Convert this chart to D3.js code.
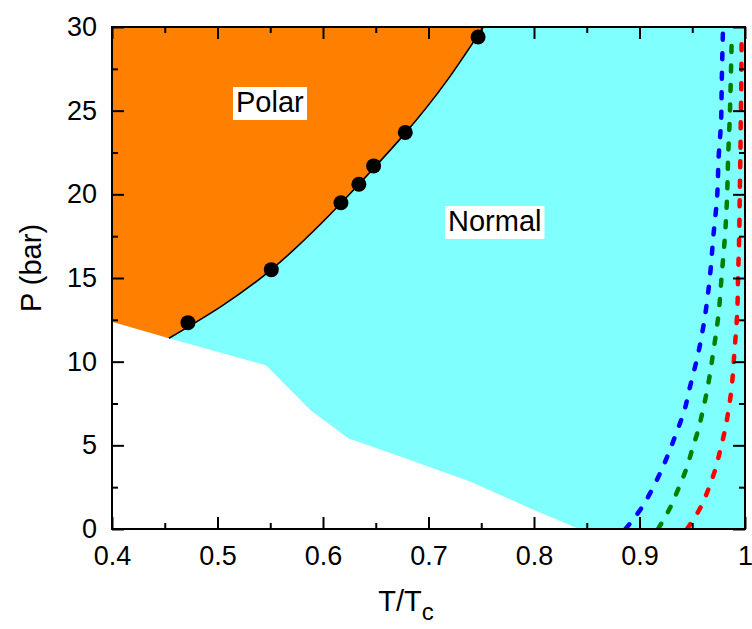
<!DOCTYPE html>
<html>
<head>
<meta charset="utf-8">
<script src="https://cdn.jsdelivr.net/npm/d3@7"></script>
<style>
  body { margin: 0; background: #fff; }
  svg { display: block; font-family: "Liberation Sans", Arial, sans-serif; }
</style>
</head>
<body>
<svg class="js-render-chart" width="752" height="629"></svg>
<script>
"use strict";

//data

const majorT = [0.4, 0.5, 0.6, 0.7, 0.8, 0.9, 1.0];
const minorT = [0.45, 0.55, 0.65, 0.75, 0.85, 0.95];
const majorP = [0, 5, 10, 15, 20, 25, 30];
const minorP = [2.5, 7.5, 12.5, 17.5, 22.5, 27.5];

const dotT = [0.472, 0.551, 0.617, 0.634, 0.648, 0.678, 0.747];
const dotP = [12.33, 15.5, 19.5, 20.6, 21.7, 23.7, 29.4];

const boundaryT = [0.454, 0.551, 0.634, 0.718, 0.752];
const boundaryP = [11.4, 15.5, 20.6, 26.84, 30];

const lowerT = [0.4, 0.454, 0.546, 0.588, 0.624, 0.674, 0.740, 0.800, 0.843];
const lowerP = [12.39, 11.4, 9.78, 7.11, 5.42, 4.32, 2.83, 1.14, 0];

const blueT = [0.8867, 0.902, 0.9125, 0.9214, 0.929, 0.936, 0.9425, 0.947, 0.956, 0.9625, 0.967, 0.970, 0.9736, 0.975, 0.9774, 0.978, 0.979];
const blueP = [0, 1.27, 2.43, 3.6, 4.76, 5.92, 7.07, 8.27, 10.6, 12.9, 15.24, 17.5, 19.86, 22.2, 24.5, 26.8, 29.6];

const greenT = [0.9176, 0.929, 0.937, 0.9444, 0.950, 0.9556, 0.960, 0.964, 0.970, 0.975, 0.978, 0.981, 0.983, 0.984, 0.9855, 0.9865, 0.9875];
const greenP = [0, 1.27, 2.43, 3.6, 4.76, 5.92, 7.07, 8.27, 10.6, 12.9, 15.24, 17.5, 19.86, 22.2, 24.5, 26.8, 29.6];

const redT = [0.945, 0.9577, 0.9656, 0.972, 0.9767, 0.981, 0.9843, 0.987, 0.990, 0.9926, 0.9935, 0.9945, 0.995, 0.9956, 0.996, 0.9965, 0.9968];
const redP = [0, 1.27, 2.43, 3.6, 4.76, 5.92, 7.07, 8.27, 10.6, 12.9, 15.24, 17.5, 19.86, 22.2, 24.5, 26.8, 29.6];

//zip

const zip = (ts, ps) => ts.map((t, i) => [t, ps[i]]);

//render chart

const renderChart = () => {

  //scales

  const x = d3.scaleLinear().domain([0.4, 1]).range([112, 745]);
  const y = d3.scaleLinear().domain([0, 30]).range([529, 27]);

  const svg = d3.select(".js-render-chart");

  svg.append("clipPath")
    .attr("id", "plot-clip")
    .append("rect")
    .attr("x", x(0.4))
    .attr("y", y(30))
    .attr("width", x(1) - x(0.4))
    .attr("height", y(0) - y(30));

  //regions

  svg.append("rect")
    .attr("x", x(0.4))
    .attr("y", y(30))
    .attr("width", x(1) - x(0.4))
    .attr("height", y(0) - y(30))
    .attr("fill", "#80ffff");

  const lineFn = d3.line().x((d) => x(d[0])).y((d) => y(d[1]));
  const smoothFn = d3.line().x((d) => x(d[0])).y((d) => y(d[1])).curve(d3.curveMonotoneX);
  const dashFn = d3.line().x((d) => x(d[0])).y((d) => y(d[1])).curve(d3.curveMonotoneY);

  const lower = zip(lowerT, lowerP);

  svg.append("path")
    .attr("d", lineFn([[0.4, 0], ...lower]) + "Z")
    .attr("fill", "#fff");

  const boundary = smoothFn(zip(boundaryT, boundaryP));

  svg.append("path")
    .attr("d", `M${x(0.4)},${y(30)}L${x(lowerT[0])},${y(lowerP[0])}` +
      boundary.replace(/^M/, "L") + "Z")
    .attr("fill", "#ff8000");

  //dashed lines

  const dashed = [
    { data: zip(blueT, blueP), color: "#0000ff" },
    { data: zip(greenT, greenP), color: "#008000" },
    { data: zip(redT, redP), color: "#ff0000" }
  ];

  svg.append("g")
    .attr("clip-path", "url(#plot-clip)")
    .selectAll("path")
    .data(dashed)
    .enter()
    .append("path")
    .attr("d", (d) => dashFn(d.data))
    .attr("fill", "none")
    .attr("stroke", (d) => d.color)
    .attr("stroke-width", 4.5)
    .attr("stroke-linecap", "round")
    .attr("stroke-dasharray", "6,13.5");

  //boundary line and dots

  svg.append("path")
    .attr("d", boundary)
    .attr("fill", "none")
    .attr("stroke", "#000")
    .attr("stroke-width", 1.6);

  svg.append("g")
    .selectAll("circle")
    .data(zip(dotT, dotP))
    .enter()
    .append("circle")
    .attr("cx", (d) => x(d[0]))
    .attr("cy", (d) => y(d[1]))
    .attr("r", 7.5)
    .attr("fill", "#000");

  //region labels

  const label = (str, px, py) => {

    const g = svg.append("g");
    const rect = g.append("rect").attr("fill", "#fff");
    const text = g.append("text")
      .attr("x", px)
      .attr("y", py)
      .attr("font-size", 29)
      .attr("fill", "#000")
      .text(str);

    const box = text.node().getBBox();

    rect.attr("x", box.x - 3)
      .attr("y", box.y + 1)
      .attr("width", box.width + 6)
      .attr("height", box.height + 1);

  };

  label("Polar", 236, 112);
  label("Normal", 448, 231);

  //axes

  const fmt = (d) => d === 1 ? "1" : d.toFixed(1);

  const style = (g, size) => {
    g.select(".domain").remove();
    g.attr("font-family", null).attr("font-size", size);
    g.selectAll("line").attr("stroke", "#000").attr("stroke-width", 2);
    g.selectAll("text").attr("fill", "#000");
  };

  const axes = [
    { fn: d3.axisBottom(x).tickValues(majorT).tickSize(-12).tickPadding(17).tickFormat(fmt), at: `translate(0,${y(0)})` },
    { fn: d3.axisBottom(x).tickValues(minorT).tickSize(-6).tickFormat(""), at: `translate(0,${y(0)})` },
    { fn: d3.axisTop(x).tickValues(majorT).tickSize(-12).tickFormat(""), at: `translate(0,${y(30)})` },
    { fn: d3.axisTop(x).tickValues(minorT).tickSize(-6).tickFormat(""), at: `translate(0,${y(30)})` },
    { fn: d3.axisLeft(y).tickValues(majorP).tickSize(-12).tickPadding(15), at: `translate(${x(0.4)},0)` },
    { fn: d3.axisLeft(y).tickValues(minorP).tickSize(-6).tickFormat(""), at: `translate(${x(0.4)},0)` },
    { fn: d3.axisRight(y).tickValues(majorP).tickSize(-12).tickFormat(""), at: `translate(${x(1)},0)` },
    { fn: d3.axisRight(y).tickValues(minorP).tickSize(-6).tickFormat(""), at: `translate(${x(1)},0)` }
  ];

  axes.forEach((a) => {
    svg.append("g")
      .attr("transform", a.at)
      .call(a.fn)
      .call((g) => style(g, 27));
  });

  //frame

  svg.append("rect")
    .attr("x", x(0.4))
    .attr("y", y(30))
    .attr("width", x(1) - x(0.4))
    .attr("height", y(0) - y(30))
    .attr("fill", "none")
    .attr("stroke", "#000")
    .attr("stroke-width", 2);

  //titles

  const xTitle = svg.append("text")
    .attr("x", 406)
    .attr("y", 611)
    .attr("text-anchor", "middle")
    .attr("font-size", 29)
    .attr("fill", "#000");

  xTitle.append("tspan").text("T/T");
  xTitle.append("tspan").attr("dy", 9).attr("font-size", 24).text("c");

  svg.append("text")
    .attr("transform", `translate(41,268) rotate(-90)`)
    .attr("text-anchor", "middle")
    .attr("font-size", 29)
    .attr("fill", "#000")
    .text("P (bar)");

};

renderChart();
</script>
</body>
</html>
